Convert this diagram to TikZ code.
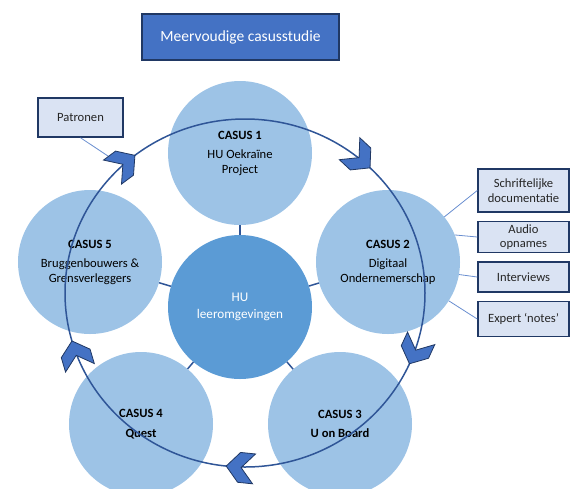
\documentclass[tikz,border=0pt]{standalone}
\usepackage{fontspec}
\setmainfont{Carlito}
\usetikzlibrary{positioning,chains}
\definecolor{casus}{HTML}{9DC3E6}
\definecolor{hub}{HTML}{5B9BD5}
\definecolor{accent}{HTML}{4472C4}
\definecolor{navy}{HTML}{203864}
\definecolor{ring}{HTML}{2F5597}
\definecolor{pale}{HTML}{DAE3F3}

\begin{document}
\begin{tikzpicture}[
            x=1pt, y=-1pt,
            font=\fontsize{12.6}{14.5}\selectfont,
            node distance=8pt,
            start chain = R going below,
                C/.style = {circle, fill=casus, minimum size=144pt,% outer cases
                            inner sep=0pt, align=center},
                H/.style = {circle, fill=hub, minimum size=144pt,
                            inner sep=0pt, align=center, text=white,
                            font=\fontsize{13.2}{15}\selectfont},
                Q/.style = {rectangle, draw=navy, line width=1.5pt, fill=pale,
                            minimum width=91pt, inner sep=2pt, align=center,
                            text=black!85},
                T/.style = {rectangle, draw=navy, line width=1.2pt, fill=accent,
                            minimum width=197pt, minimum height=46pt, text=white,
                            font=\fontsize{15.5}{18}\selectfont},
                V/.style = {fill=accent, draw=navy, line width=0.8pt,
                            line join=miter},% chevrons on the cycle
                tick/.style = {draw=ring, line width=1.5pt},
                link/.style = {draw=accent!80, line width=0.8pt},
                ]
            \useasboundingbox (0,0) rectangle (570,488);
            \node[T] (title) at (240.5,37) {Meervoudige casusstudie};
            % cases round the hub
            \node[H] (hub) at (240,307) {HU\\[2pt]leeromgevingen};
            \node[C] (c1) at (240,153) {\textbf{CASUS 1}\\[5pt]HU Oekraïne\\Project};
            \node[C] (c2) at (388,262) {\textbf{CASUS 2}\\[5pt]Digitaal\\Ondernemerschap};
            \node[C] (c3) at (340,424) {\textbf{CASUS 3}\\[5pt]\textbf{U on Board}};
            \node[C] (c4) at (141,424) {\textbf{CASUS 4}\\[5pt]\textbf{Quest}};
            \node[C] (c5) at (90,262) {\textbf{CASUS 5}\\[5pt]Bruggenbouwers \&\\Grensverleggers};
            \foreach \c in {c1,c2,c3,c4,c5}
                \draw[tick] (hub) -- (\c);
            % sources
            \node[Q, on chain, minimum height=43pt] (doc) at (523.5,190.5) {Schriftelijke\\documentatie};
            \node[Q, on chain, minimum height=31pt] (audio) {Audio\\opnames};
            \node[Q, on chain, minimum height=30pt] (interviews) {Interviews};
            \node[Q, on chain, minimum height=35pt] (expert) {Expert ‘notes’};
            \draw[link] (c2) -- (doc.west);
            \draw[link] (c2.22) -- (audio.west);
            \draw[link] (c2.-10) -- (interviews.west);
            \draw[link] (c2) -- (expert.west);
            \node[Q, minimum width=85pt, minimum height=39pt] (patronen) at (80.5,117.5) {Patronen};
            \coordinate (pin) at (114,160);
            \draw[link] (patronen.south) -- (pin);
            % the cycle
            \draw[ring, line width=1.5pt] (245,293) ellipse [x radius=180, y radius=174];
            \foreach \t in {127.7,46,-24,-96,196}{
                \pgfmathsetmacro\ang{atan2(-174*cos(\t),180*sin(\t))}
                \draw[V, shift={({245+180*cos(\t)},{293-174*sin(\t)})}, rotate=\ang]
                    (0,0) -- (-13,-15) -- (-28,-15) -- (-15,0) -- (-28,15) -- (-13,15) -- cycle;
            }
        \end{tikzpicture}
\end{document}
